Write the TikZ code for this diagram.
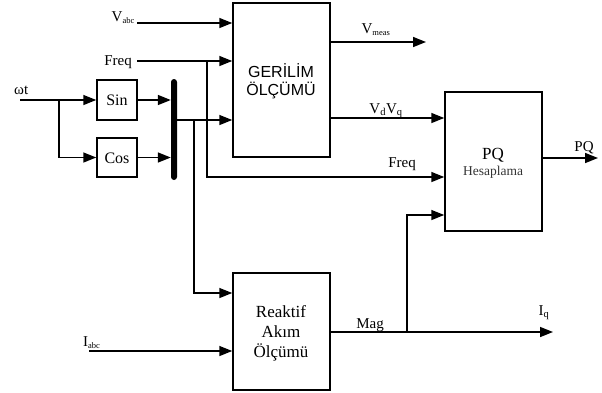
\documentclass[tikz,border=0pt]{standalone}
\usepackage{fontspec}
\setmainfont{Liberation Serif}
\newfontfamily\arialf{Liberation Sans}
\usetikzlibrary{arrows.meta}
\newcommand{\sbs}[1]{\textsubscript{\fontsize{8.5}{9}\selectfont #1}}
\begin{document}
\begin{tikzpicture}[x=1pt,y=-1pt,
  blk/.style={draw,line width=1.5pt,minimum width=#1,inner sep=0pt},
  arr/.style={line width=1.5pt,-{Triangle[length=13pt,width=10pt]}},
  lbl/.style={inner sep=0pt,font=\fontsize{15}{16}\selectfont},
  txt/.style={inner sep=0pt,anchor=base}]
\useasboundingbox (0,0) rectangle (602,392);
% blocks
\node[blk=97pt,minimum height=154pt] (ger) at (281.5,80) {};
\node[blk=40pt,minimum height=40pt] (sin) at (117,100) {};
\node[blk=40pt,minimum height=39pt] (cos) at (117,157.5) {};
\node[fill=black,draw=none,minimum width=6pt,minimum height=101pt,inner sep=0pt,rounded corners=3pt] (bar) at (174,129.5) {};
\node[blk=97pt,minimum height=117pt] (reak) at (281.5,331.5) {};
\node[blk=97pt,minimum height=139pt] (pq) at (493.5,161.5) {};
% block texts
\node[txt,font=\arialf\fontsize{16}{18}\selectfont] (g1) at (281,77) {GERİLİM};
\node[txt,font=\arialf\fontsize{16}{18}\selectfont] (g2) at (281,95) {ÖLÇÜMÜ};
\node[txt,font=\fontsize{16}{17}\selectfont] (t1) at (117,105) {Sin};
\node[txt,font=\fontsize{16}{17}\selectfont] (t2) at (117,163) {Cos};
\node[txt,font=\fontsize{17}{18}\selectfont] (r1) at (281,317) {Reaktif};
\node[txt,font=\fontsize{17}{18}\selectfont] (r2) at (281,337) {Akım};
\node[txt,font=\fontsize{17}{18}\selectfont] (r3) at (281,357) {Ölçümü};
\node[txt,font=\fontsize{17}{18}\selectfont] (p1) at (493,159) {PQ};
\node[txt,font=\fontsize{13.5}{14}\selectfont,text=black!80] (p2) at (493,175) {Hesaplama};
% free ends
\coordinate (vabcS) at (137,23);
\coordinate (freqS) at (137,61);
\coordinate (wtS) at (20,100);
\coordinate (iabcS) at (89,351);
\coordinate (vmeasE) at (426,42);
\coordinate (pqE) at (598,158);
\coordinate (iqE) at (553,332);
\coordinate (fb) at (207,61);
\coordinate (wb) at (59,100);
\coordinate (bb) at (194,120);
\coordinate (mb) at (407,332);
% connectors
\draw[arr] (vabcS) -- (vabcS -| ger.west);
\draw[arr] (freqS) -- (freqS -| ger.west);
\draw[arr] (fb) |- (pq.west |- 0,177);
\draw[arr] (wtS) -- (sin.west);
\draw[arr] (wb) |- (cos.west);
\draw[arr] (sin.east) -- (sin.east -| bar.west);
\draw[arr] (cos.east) -- (cos.east -| bar.west);
\draw[arr] (bar.east |- bb) -- (bb -| ger.west);
\draw[arr] (bb) |- (reak.west |- 0,293);
\draw[arr] (iabcS) -- (iabcS -| reak.west);
\draw[arr] (ger.east |- vmeasE) -- (vmeasE);
\draw[arr] (ger.east |- 0,118) -- (pq.west |- 0,118);
\draw[arr] (reak.east |- iqE) -- (iqE);
\draw[arr] (mb) |- (pq.west |- 0,215);
\draw[arr] (pq.east |- pqE) -- (pqE);
% labels
\node[lbl,anchor=base east] (l1) at (135,21) {V\sbs{abc}};
\node[lbl,anchor=base east] (l2) at (132,65.5) {Freq};
\node[lbl,anchor=base west] (l3) at (14,94) {ωt};
\node[lbl,anchor=base] (l4) at (376,33) {V\sbs{meas}};
\node[lbl,anchor=base] (l5) at (386,113) {V\textsubscript{d}V\textsubscript{q}};
\node[lbl,anchor=base] (l6) at (402,167) {Freq};
\node[lbl,anchor=base] (l7) at (584,151) {PQ};
\node[lbl,anchor=base] (l8) at (370,328) {Mag};
\node[lbl,anchor=base] (l9) at (544,315) {I\textsubscript{q}};
\node[lbl,anchor=base west] (l10) at (83,346) {I\sbs{abc}};
\end{tikzpicture}
\end{document}
